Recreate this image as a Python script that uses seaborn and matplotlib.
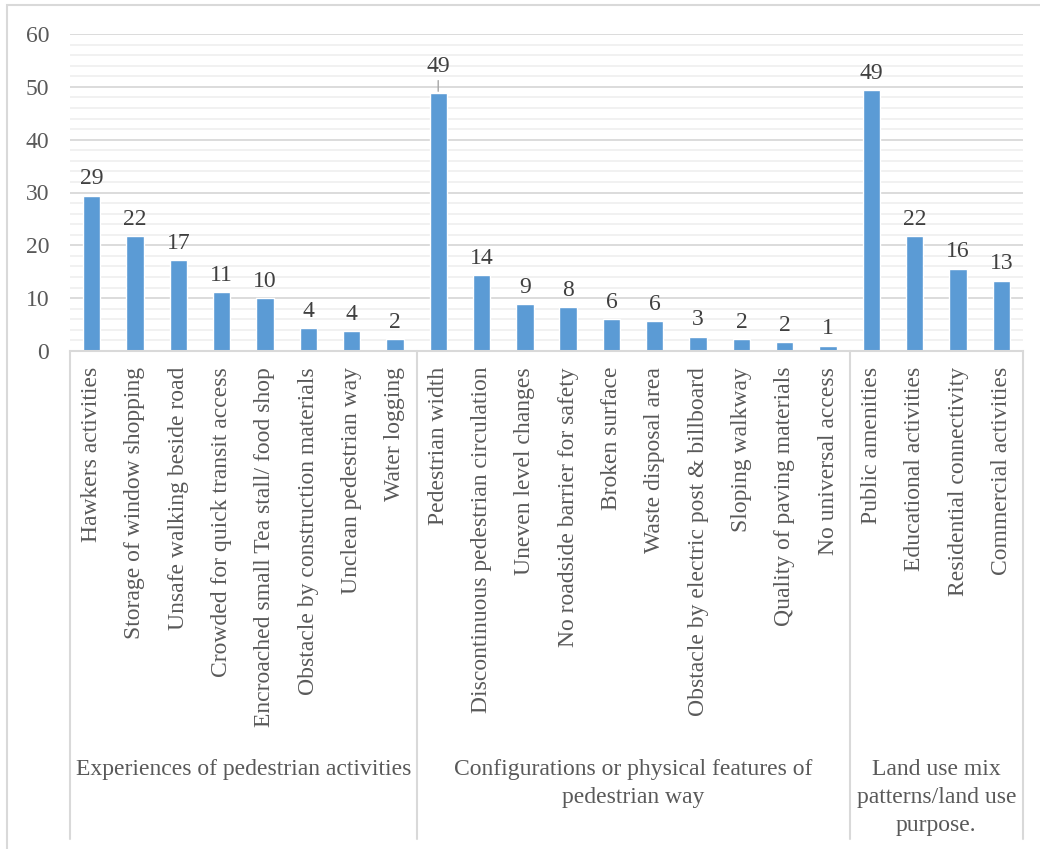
import matplotlib
matplotlib.use("Agg")
import matplotlib.pyplot as plt
from matplotlib.ticker import MultipleLocator
from matplotlib.transforms import blended_transform_factory
from matplotlib.patches import Rectangle
import seaborn as sns
import pandas as pd

# ---- data ----
group_names = [
    "Experiences of pedestrian activities",
    "Configurations or physical features of\npedestrian way",
    "Land use mix\npatterns/land use\npurpose.",
]
experience_items = [
    "Hawkers activities", "Storage of window shopping", "Unsafe walking beside road",
    "Crowded for quick transit access", "Encroached small Tea stall/ food shop",
    "Obstacle by construction materials", "Unclean pedestrian way", "Water logging",
]
experience_values = [29.4, 21.7, 17.2, 11.1, 10.0, 4.4, 3.8, 2.2]

configuration_items = [
    "Pedestrian width", "Discontinuous pedestrian circulation", "Uneven level changes",
    "No roadside barrier for safety", "Broken surface", "Waste disposal area",
    "Obstacle by electric post & billboard", "Sloping walkway",
    "Quality of paving materials", "No universal access",
]
configuration_values = [48.9, 14.4, 8.9, 8.3, 6.1, 5.6, 2.7, 2.2, 1.7, 1.0]

landuse_items = [
    "Public amenities", "Educational activities", "Residential connectivity",
    "Commercial activities",
]
landuse_values = [49.4, 21.7, 15.6, 13.3]

y_ticks = [0, 10, 20, 30, 40, 50, 60]

# ---- assemble table ----
items = experience_items + configuration_items + landuse_items
values = experience_values + configuration_values + landuse_values
group_sizes = [len(experience_items), len(configuration_items), len(landuse_items)]
df = pd.DataFrame({"item": items, "value": values})

# ---- style ----
sns.set_style("white")
plt.rcParams["font.family"] = ["Liberation Serif", "DejaVu Serif"]
FS = 17
TICK_GREY = "#595959"
LABEL_GREY = "#404040"
LINE_GREY = "#d9d9d9"
BAR_BLUE = "#5B9BD5"

W, H = 1040, 849
fig = plt.figure(figsize=(W / 100, H / 100), dpi=100)

# chart-area frame
fig.patches.append(Rectangle((7 / W, -0.02), 1.05, 1 - 5 / H + 0.02,
                             transform=fig.transFigure, fill=False,
                             edgecolor=LINE_GREY, linewidth=1.5, zorder=0))

left, right, top, bottom = 70, 1023, 34, 351
ax = fig.add_axes([left / W, 1 - bottom / H, (right - left) / W, (bottom - top) / H])

sns.barplot(data=df, x="item", y="value", color=BAR_BLUE, width=0.4,
            saturation=1, ax=ax, order=items)

ax.set_xlim(-0.5, len(items) - 0.5)
ax.set_ylim(0, 60)
ax.set_yticks(y_ticks)
ax.yaxis.set_minor_locator(MultipleLocator(2))
ax.grid(axis="y", which="major", color=LINE_GREY, linewidth=1.3, zorder=0)
ax.grid(axis="y", which="minor", color="#f0f0f0", linewidth=1.3, zorder=0)
ax.set_axisbelow(True)
for s in ["top", "right", "left"]:
    ax.spines[s].set_visible(False)
ax.spines["bottom"].set_color(LINE_GREY)
ax.spines["bottom"].set_linewidth(1.5)
ax.tick_params(axis="y", which="both", length=0, pad=15, labelsize=FS,
               labelcolor=TICK_GREY)
ax.tick_params(axis="x", length=0, pad=11.5, labelsize=FS, labelcolor=TICK_GREY)
ax.set_xticks(range(len(items)))
ax.set_xticklabels(items, rotation=90, ha="center", va="top")
ax.set_xlabel("")
ax.set_ylabel("")

# value labels
for i, v in enumerate(values):
    if items[i] == "Pedestrian width":
        ax.annotate(f"{v:.0f}", xy=(i, v), xytext=(i, 51.8),
                    ha="center", va="bottom", fontsize=FS, color=LABEL_GREY,
                    arrowprops=dict(arrowstyle="-", color="#a6a6a6", lw=1,
                                    shrinkA=0, shrinkB=1))
    else:
        ax.annotate(f"{v:.0f}", xy=(i, v), xytext=(0, 4.5),
                    textcoords="offset points", ha="center", va="bottom",
                    fontsize=FS, color=LABEL_GREY)

# group separators and group captions below the axis
trans = blended_transform_factory(ax.transData, ax.transAxes)
y_low = (bottom - 839) / (bottom - top)
edges = [-0.5]
for n in group_sizes:
    edges.append(edges[-1] + n)
for x in edges:
    ax.plot([x, x], [0, y_low], transform=trans, color=LINE_GREY,
            linewidth=1.5, clip_on=False)
y_cap = (bottom - 759) / (bottom - top)
for k, name in enumerate(group_names):
    xc = (edges[k] + edges[k + 1]) / 2
    ax.text(xc, y_cap, name, transform=trans, ha="center", va="top",
            fontsize=FS, color=TICK_GREY, linespacing=1.45)

fig.savefig("out.png", dpi=100)
